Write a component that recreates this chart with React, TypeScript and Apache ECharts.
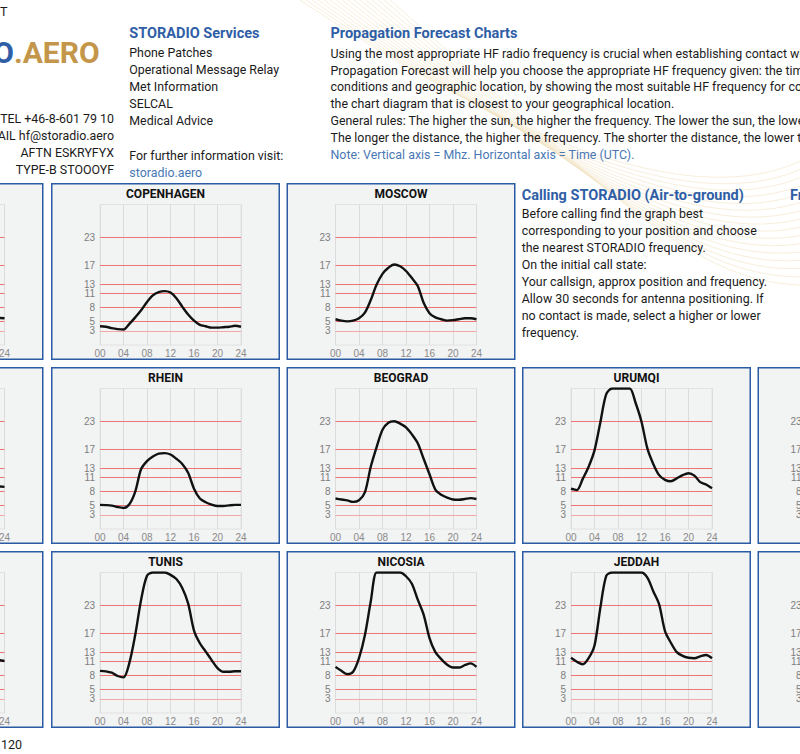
import React, { useEffect, useRef } from "react";
import * as echarts from "echarts";

// ---------- data ----------
const HOURS = [0, 1, 2, 3, 4, 5, 6, 7, 8, 9, 10, 11, 12, 13, 14, 15, 16, 17, 18, 19, 20, 21, 22, 23, 24];
const EDGE_HOURS = [23, 24];
const X_TICKS = [0, 4, 8, 12, 16, 20, 24];
const Y_TICKS = [3, 5, 8, 11, 13, 17, 23];
const RED_LINES = [3, 5, 8, 11, 13, 17, 23];

const COPENHAGEN = [4.0, 3.9, 3.6, 3.4, 3.3, 4.5, 5.9, 7.4, 9.2, 10.6, 11.3, 11.5, 11.2, 10.0, 8.2, 6.5, 5.2, 4.3, 4.0, 3.7, 3.7, 3.8, 3.9, 4.1, 3.9];
const MOSCOW = [5.5, 5.2, 5.05, 5.2, 5.7, 6.9, 9.6, 12.9, 15.2, 16.5, 17.2, 16.8, 15.8, 14.3, 12.6, 9.0, 6.8, 5.9, 5.5, 5.2, 5.3, 5.5, 5.7, 5.7, 5.5];
const RHEIN = [5.15, 5.1, 5.0, 4.7, 4.5, 5.3, 8.0, 12.8, 14.5, 15.5, 16.1, 16.2, 15.9, 15.0, 13.9, 12.0, 8.6, 6.5, 5.7, 5.2, 4.9, 4.9, 5.05, 5.15, 5.15];
const BEOGRAD = [6.5, 6.3, 6.1, 5.8, 6.15, 7.8, 13.3, 17.5, 21.2, 22.7, 23.0, 22.5, 21.7, 20.2, 18.3, 15.0, 11.7, 8.4, 7.3, 6.7, 6.3, 6.25, 6.4, 6.6, 6.4];
const URUMQI = [8.6, 8.3, 10.7, 13.3, 16.8, 22.8, 28.8, 30, 30, 30, 30, 26.9, 22.9, 17.2, 13.9, 11.5, 10.5, 10.2, 10.8, 11.5, 11.9, 11.4, 10.0, 9.5, 8.7];
const TUNIS = [9.0, 8.9, 8.6, 7.9, 7.6, 10.7, 16.7, 24.2, 29.3, 30, 30, 30, 29.5, 28.6, 26.7, 23.4, 17.6, 14.9, 13.1, 11.3, 9.6, 8.8, 8.8, 8.9, 8.9];
const NICOSIA = [9.85, 9.0, 8.3, 8.8, 11.7, 16.6, 23.8, 30, 30, 30, 30, 30, 29.2, 27.6, 24.2, 21.0, 16.0, 13.0, 11.5, 10.3, 9.7, 9.7, 10.2, 10.6, 9.85];
const JEDDAH = [11.8, 10.95, 10.4, 11.7, 14.4, 22.5, 29.3, 30, 30, 30, 30, 30, 30, 28.9, 26.0, 23.2, 17.5, 15.0, 13.0, 12.2, 11.8, 11.7, 12.1, 12.4, 11.7];
const WEST_1 = [5.8, 5.7];
const WEST_2 = [9.1, 9.0];
const WEST_3 = [11.3, 11.1];

const SERVICES = ["Phone Patches", "Operational Message Relay", "Met Information", "SELCAL", "Medical Advice"];
const CONTACT = ["TEL +46-8-601 79 10", "EMAIL hf@storadio.aero", "AFTN ESKRYFYX", "TYPE-B STOOOYF"];
const PROPAGATION = [
  "Using the most appropriate HF radio frequency is crucial when establishing contact with STORADIO. The",
  "Propagation Forecast will help you choose the appropriate HF frequency given: the time of day, propagation",
  "conditions and geographic location, by showing the most suitable HF frequency for contact. Choose",
  "the chart diagram that is closest to your geographical location.",
  "General rules: The higher the sun, the higher the frequency. The lower the sun, the lower the frequency.",
  "The longer the distance, the higher the frequency. The shorter the distance, the lower the frequency.",
];
const PROP_NOTE = "Note: Vertical axis = Mhz. Horizontal axis = Time (UTC).";
const CALLING = [
  "Before calling find the graph best",
  "corresponding to your position and choose",
  "the nearest STORADIO frequency.",
  "On the initial call state:",
  "Your callsign, approx position and frequency.",
  "Allow 30 seconds for antenna positioning. If",
  "no contact is made, select a higher or lower",
  "frequency.",
];

// ---------- layout ----------
const COL_X = [-185.5, 51, 286.5, 522, 757.5];
const ROW_Y = [183, 367, 551];
const PANEL_W = 229;
const PANEL_H = 177;
const PLOT_L = 49;
const PLOT_T = 21.5;
const PLOT_W = 141;
const PLOT_H = 140.5;

type Panel = { title: string; col: number; row: number; hours?: number[]; values?: number[] };

const PANELS: Panel[] = [
  { title: "", col: 0, row: 0, hours: EDGE_HOURS, values: WEST_1 },
  { title: "COPENHAGEN", col: 1, row: 0, hours: HOURS, values: COPENHAGEN },
  { title: "MOSCOW", col: 2, row: 0, hours: HOURS, values: MOSCOW },
  { title: "", col: 0, row: 1, hours: EDGE_HOURS, values: WEST_2 },
  { title: "RHEIN", col: 1, row: 1, hours: HOURS, values: RHEIN },
  { title: "BEOGRAD", col: 2, row: 1, hours: HOURS, values: BEOGRAD },
  { title: "URUMQI", col: 3, row: 1, hours: HOURS, values: URUMQI },
  { title: "", col: 4, row: 1 },
  { title: "", col: 0, row: 2, hours: EDGE_HOURS, values: WEST_3 },
  { title: "TUNIS", col: 1, row: 2, hours: HOURS, values: TUNIS },
  { title: "NICOSIA", col: 2, row: 2, hours: HOURS, values: NICOSIA },
  { title: "JEDDAH", col: 3, row: 2, hours: HOURS, values: JEDDAH },
  { title: "", col: 4, row: 2 },
];

const BLUE = "#2f5ea6";
const LIGHT_BLUE = "#4a78b5";
const GOLD = "#c4964a";
const INK = "#1b1b1b";
const FONT = "Roboto";
const BODY = 12.4;

function txt(x: number, y: number, text: string, o: any = {}) {
  return {
    type: "text",
    x,
    y,
    z: 10,
    silent: true,
    style: {
      text,
      fill: o.fill || INK,
      fontSize: o.size || BODY,
      fontFamily: o.family || FONT,
      fontWeight: o.weight || "normal",
      align: o.align || "left",
      verticalAlign: "middle",
    },
  };
}

export default function App() {
  const ref = useRef<HTMLDivElement>(null);
  useEffect(() => {
    if (!ref.current) return;
    const chart = echarts.init(ref.current, null, { renderer: "svg" });

    const graphics: any[] = [];

    // faint decorative swooshes behind the header text
    for (let i = 0; i < 16; i++) {
      graphics.push({
        type: "bezierCurve",
        z: -20,
        silent: true,
        shape: {
          x1: 300 + i * 6,
          y1: 0,
          cpx1: 480 + i * 10,
          cpy1: 120 + i * 6,
          x2: 820,
          y2: 150 + i * 9,
          cpx2: 700,
          cpy2: 230 + i * 4,
        },
        style: { stroke: "#f1e2c2", lineWidth: 0.8, fill: "none", opacity: 0.75 },
      });
    }

    PANELS.forEach((p) => {
      const x = COL_X[p.col];
      const y = ROW_Y[p.row];
      graphics.push({
        type: "rect",
        z: -10,
        silent: true,
        shape: { x: x + 0.75, y: y + 0.75, width: PANEL_W - 1.5, height: PANEL_H - 1.5 },
        style: { fill: "#f2f3f3", stroke: "#2c5ba6", lineWidth: 1.5 },
      });
      if (p.title) {
        graphics.push(txt(x + PANEL_W / 2, y + 10.5, p.title, { weight: "bold", size: 12, align: "center", fill: "#111" }));
      }
    });

    // header texts
    graphics.push(txt(7.5, 11, "CONTACT", { align: "right", size: 12.5 }));
    graphics.push(txt(14, 52.5, "STORADIO", { align: "right", size: 30, weight: "bold", fill: BLUE }));
    graphics.push(txt(14, 52.5, ".AERO", { size: 30, weight: "bold", fill: GOLD }));
    CONTACT.forEach((t, i) => graphics.push(txt(114, 118.3 + i * 17, t, { align: "right" })));

    graphics.push(txt(129.3, 33.8, "STORADIO Services", { size: 14.5, weight: "bold", fill: BLUE }));
    SERVICES.forEach((t, i) => graphics.push(txt(129.3, 52.3 + i * 17, t)));
    graphics.push(txt(129.3, 155, "For further information visit:"));
    graphics.push(txt(129.3, 172, "storadio.aero", { fill: LIGHT_BLUE }));

    graphics.push(txt(330.5, 33.8, "Propagation Forecast Charts", { size: 14.5, weight: "bold", fill: BLUE }));
    PROPAGATION.forEach((t, i) => graphics.push(txt(330.5, 53.3 + i * 16.8, t)));
    graphics.push(txt(330.5, 154.3, PROP_NOTE, { fill: LIGHT_BLUE }));

    graphics.push(txt(521.7, 195, "Calling STORADIO (Air-to-ground)", { size: 14.5, weight: "bold", fill: BLUE }));
    CALLING.forEach((t, i) => graphics.push(txt(521.7, 213.3 + i * 17, t)));
    graphics.push(txt(790, 195, "Frequencies", { size: 14.5, weight: "bold", fill: BLUE }));

    graphics.push(txt(1, 744.5, "120", { size: 12.5 }));

    const grids = PANELS.map((p) => ({
      left: COL_X[p.col] + PLOT_L,
      top: ROW_Y[p.row] + PLOT_T,
      width: PLOT_W,
      height: PLOT_H,
      show: true,
      borderColor: "#e2e2e2",
      borderWidth: 1,
      backgroundColor: "transparent",
      containLabel: false,
      outerBoundsMode: "none",
    }));

    const xAxes = PANELS.map((_, i) => ({
      gridIndex: i,
      type: "value",
      min: 0,
      max: 24,
      interval: 4,
      axisLine: { show: false },
      axisTick: { show: false },
      splitLine: { show: true, lineStyle: { color: "#dcdcdc", width: 1 } },
      axisLabel: {
        formatter: (v: number) => String(v).padStart(2, "0"),
        color: "#8a8a8a",
        fontSize: 10,
        fontFamily: "Liberation Sans",
        margin: 3,
        showMinLabel: true,
        showMaxLabel: true,
        hideOverlap: false,
        customValues: X_TICKS,
      },
    }));

    // a blank label at 0 and 30 keeps the min/max overlap check away from 3 and 5
    const yLabelValues = [0, ...Y_TICKS, 30];
    const yAxes = PANELS.map((_, i) => ({
      gridIndex: i,
      type: "value",
      min: 0,
      max: 30,
      axisLine: { show: false },
      axisTick: { show: false },
      splitLine: { show: false },
      axisLabel: {
        customValues: yLabelValues,
        formatter: (v: number) => (Y_TICKS.indexOf(v) >= 0 ? String(v) : " "),
        showMinLabel: true,
        showMaxLabel: true,
        hideOverlap: false,
        color: "#7d7d7d",
        fontSize: 10,
        lineHeight: 7,
        fontFamily: "Liberation Sans",
        margin: 5,
      },
    }));

    const series: any[] = [];
    PANELS.forEach((p, i) => {
      if (!p.values || !p.hours) return;
      series.push({
        type: "line",
        xAxisIndex: i,
        yAxisIndex: i,
        data: p.hours.map((h, k) => [h, p.values![k]]),
        smooth: 0.3,
        symbol: "none",
        clip: true,
        z: 3,
        lineStyle: { color: "#111", width: 2.4 },
        markLine: {
          silent: true,
          z: 1,
          symbol: ["none", "none"],
          label: { show: false },
          animation: false,
          data: RED_LINES.map((v) => ({
            yAxis: v,
            lineStyle: { color: v === 3 ? "#f2a6a6" : "#ee7474", width: 1.2, type: "solid" },
          })),
        },
      });
    });

    chart.setOption({
      animation: false,
      backgroundColor: "#ffffff",
      grid: grids,
      xAxis: xAxes,
      yAxis: yAxes,
      series,
      graphic: { elements: graphics },
    });
    return () => chart.dispose();
  }, []);

  return <div ref={ref} style={{ position: "fixed", left: 0, top: 0, width: 800, height: 754 }} />;
}
